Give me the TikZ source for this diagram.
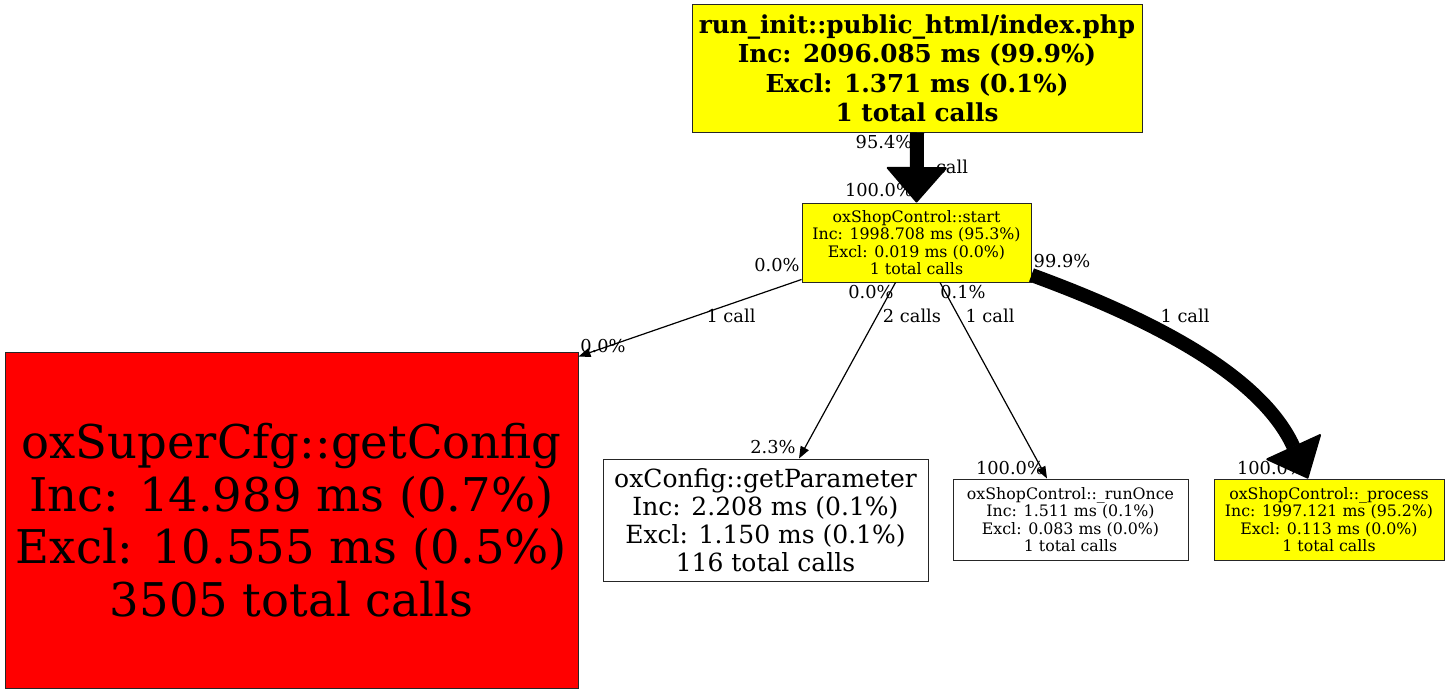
\documentclass[tikz,border=0pt]{standalone}
\usepackage{fontspec}
\setmainfont{DejaVu Serif}
\usepackage{xcolor}
\usepackage{tikz}
\usetikzlibrary{positioning,arrows.meta,calc}
\definecolor{hotcolor}{RGB}{255, 0, 0}
\definecolor{warmcolor}{RGB}{255, 255, 0}
\tikzset{
    call box/.style={rectangle, draw=black!85, line width=1pt, inner sep=0pt, align=center, fill=white},
    warm box/.style={call box, fill=warmcolor},
    hot box/.style={call box, fill=hotcolor},
    big font/.style={font=\fontsize{46.5}{52.5}\selectfont},
    mid font/.style={font=\fontsize{25}{28}\selectfont},
    root font/.style={font=\fontsize{24.7}{29.5}\selectfont\bfseries},
    small font/.style={font=\fontsize{15.8}{17.5}\selectfont},
    edge label/.style={font=\fontsize{17.8}{20}\selectfont, inner sep=0pt},
    call edge/.style={line width=1.2pt, -{Triangle[length=12pt, width=9pt]}},
    heavy call edge/.style={line width=14pt, -{Triangle[length=36pt 0 0, width=62pt 0 0, line width=2pt, round]}}
}

\begin{document}
\begin{tikzpicture}[x=1pt, y=-1pt]
    \useasboundingbox (0,0) rectangle (1449,693);

    % Call graph nodes
    \node[warm box, root font, minimum width=450pt, minimum height=127pt] (root) at (917,68.5)
        {run\_init::public\_html/index.php\\Inc: 2096.085 ms (99.9\%)\\Excl: 1.371 ms (0.1\%)\\1 total calls};
    \node[warm box, small font, minimum width=229pt, minimum height=79pt] (start) at (916.5,242.5)
        {oxShopControl::start\\Inc: 1998.708 ms (95.3\%)\\Excl: 0.019 ms (0.0\%)\\1 total calls};
    \node[hot box, big font, minimum width=573pt, minimum height=336pt] (cfg) at (291.5,520)
        {oxSuperCfg::getConfig\\Inc: 14.989 ms (0.7\%)\\Excl: 10.555 ms (0.5\%)\\3505 total calls};
    \node[call box, mid font, minimum width=325pt, minimum height=122pt] (param) at (765.5,520)
        {oxConfig::getParameter\\Inc: 2.208 ms (0.1\%)\\Excl: 1.150 ms (0.1\%)\\116 total calls};
    \node[call box, small font, minimum width=235pt, minimum height=81pt] (runonce) at (1070.5,519.5)
        {oxShopControl::\_runOnce\\Inc: 1.511 ms (0.1\%)\\Excl: 0.083 ms (0.0\%)\\1 total calls};
    \node[warm box, small font, minimum width=230pt, minimum height=81pt] (process) at (1329,519.5)
        {oxShopControl::\_process\\Inc: 1997.121 ms (95.2\%)\\Excl: 0.113 ms (0.0\%)\\1 total calls};

    % Edge labels (drawn first, arrows lie over them)
    \node[edge label] (rootTail) at (884,142) {95.4\%};
    \node[edge label] (rootCalls) at (952,167) {call};
    \node[edge label] (rootHead) at (879,190) {100.0\%};

    \node[edge label] (cfgTail) at (777,265) {0.0\%};
    \node[edge label] (cfgCalls) at (731,316) {1 call};
    \node[edge label] (cfgHead) at (603,346) {0.0\%};

    \node[edge label] (paramTail) at (871,292) {0.0\%};
    \node[edge label] (paramCalls) at (912,316) {2 calls};
    \node[edge label] (paramHead) at (773,447) {2.3\%};

    \node[edge label] (runonceTail) at (963,292) {0.1\%};
    \node[edge label] (runonceCalls) at (990,316) {1 call};
    \node[edge label] (runonceHead) at (1010,468) {100.0\%};

    \node[edge label] (processTail) at (1062,261) {99.9\%};
    \node[edge label] (processCalls) at (1185,316) {1 call};
    \node[edge label] (processHead) at (1271,468) {100.0\%};

    % Calls
    \draw[heavy call edge] (root.south) -- (start.north);
    \draw[call edge] ([yshift=3pt]start.south west) -- ([yshift=-5pt]cfg.north east);
    \draw[call edge] ([xshift=-21pt]start.south) -- ([xshift=33.5pt]param.north);
    \draw[call edge] ([xshift=23.5pt]start.south) -- ([xshift=-23.5pt]runonce.north);
    \draw[heavy call edge] ($(start.east)+(0,32.5)$) .. controls (1160,322) and (1262,378) .. ([xshift=-21pt]process.north);
\end{tikzpicture}
\end{document}
